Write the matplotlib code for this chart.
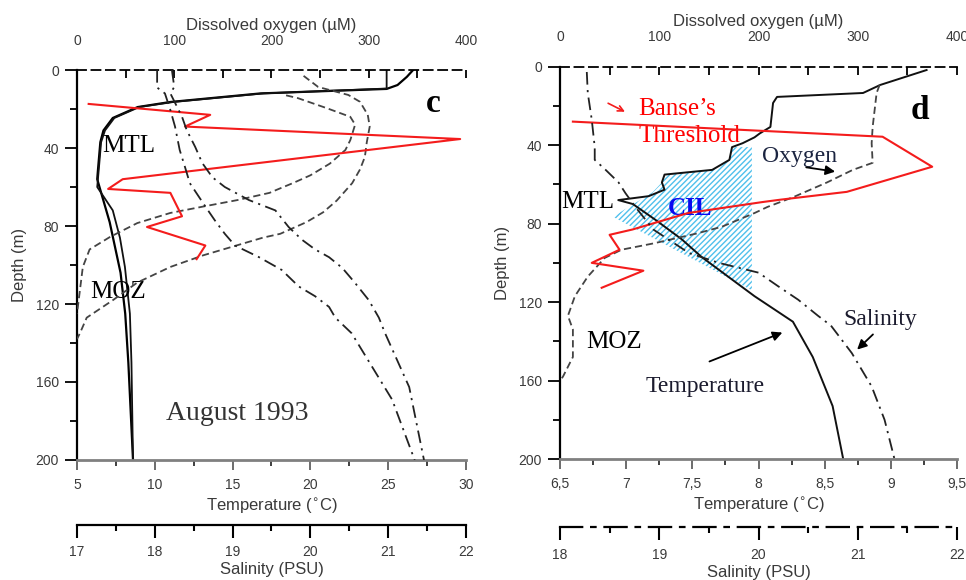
import matplotlib
matplotlib.use("Agg")
import matplotlib.pyplot as plt
from matplotlib.ticker import FixedLocator, FixedFormatter, MultipleLocator

# ---------------- data: panel c (August 1993) ----------------
c_temp1_depth = [0, 3.5, 7.7, 9.7, 12, 16.4, 19, 24.6, 31, 37, 51, 56, 67, 78, 91, 104, 125, 150, 175, 200]
c_temp1 = [26.6, 26.2, 25.6, 24.9, 16.8, 11.0, 8.9, 7.3, 6.7, 6.5, 6.35, 6.3, 6.7, 7.1, 7.45, 7.8, 8.1, 8.3, 8.45, 8.6]
c_temp2_depth = [0, 9.5, 12, 16.4, 19, 24.6, 31, 37, 51, 60, 72, 86, 101, 125, 150, 175, 200]
c_temp2 = [24.9, 24.9, 17.0, 11.2, 9.0, 7.4, 6.8, 6.55, 6.4, 6.3, 7.3, 7.76, 8.08, 8.4, 8.5, 8.55, 8.6]

c_oxyA_depth = [3, 8.7, 12.8, 16.3, 23, 29, 37, 44.6, 51, 58, 67, 73, 78, 84, 86, 95, 101, 109, 118, 127, 135, 138]
c_oxyA = [233, 248, 279, 291, 299, 301, 298, 296, 291, 283, 267, 253, 236, 209, 191, 130, 96, 62, 37, 10, 3, 0]
c_oxyB_depth = [13, 14.4, 19.6, 24, 28, 36, 41, 48, 54, 58, 61.5, 63, 66.7, 70, 73.3, 78.5, 85.6, 92, 101, 113, 125]
c_oxyB = [215, 227, 257, 281, 286, 281, 276, 260, 240, 222, 205, 198, 165, 130, 96, 62, 34, 13, 6, 3, 0]

c_red_depth = [17.4, 23, 29, 35.4, 56, 61, 63, 75, 80.5, 90, 97]
c_red_oxy = [12, 137, 111, 394, 47, 32, 96, 108, 72, 132, 123]

c_sal1_depth = [0, 9, 12, 20.5, 29, 41, 50, 58, 70, 77, 84, 90, 96, 102.5, 111, 116, 121.5, 127, 135, 169, 200]
c_sal1 = [18.03, 18.03, 18.13, 18.20, 18.26, 18.32, 18.39, 18.45, 18.65, 18.77, 18.90, 19.03, 19.34,
          19.63, 19.85, 20.06, 20.24, 20.32, 20.53, 21.05, 21.34]
c_sal2_depth = [0, 8.7, 12, 24, 30.8, 39.5, 47.7, 55, 60, 66.7, 72, 80.5, 87, 92, 96, 101.5, 109, 118, 127, 135, 162.6, 200]
c_sal2 = [18.22, 18.25, 18.20, 18.35, 18.41, 18.52, 18.61, 18.74, 18.90, 19.21, 19.55, 19.72, 19.89,
          20.06, 20.24, 20.41, 20.57, 20.75, 20.88, 20.96, 21.27, 21.46]

# ---------------- data: panel d ----------------
d_temp_depth = [1.7, 9.3, 13.4, 15.4, 18.5, 30.7, 34, 36, 39, 41, 47.5, 52.6, 55, 59, 62.7, 66, 68, 70,
                78, 88, 97, 107, 117, 130, 148, 173, 200]
d_temp = [9.27, 8.92, 8.79, 8.14, 8.11, 8.09, 8.01, 7.97, 7.88, 7.80, 7.78, 7.65, 7.29, 7.27, 7.29, 7.17,
          6.94, 7.05, 7.22, 7.42, 7.57, 7.77, 7.97, 8.26, 8.41, 8.56, 8.64]

d_oxy_depth = [9.3, 13.4, 30.7, 39, 49, 52.6, 59, 66.5, 71.5, 74.6, 81.6, 85, 90, 93.3, 97.5, 107, 117,
               127, 134, 148, 158, 160]
d_oxy = [322, 319, 315, 314, 315, 295, 269, 235, 209, 196, 163, 138, 95, 62, 45, 28, 15, 8, 13, 13, 3, 0]

d_sal_depth = [2.7, 13.4, 27, 41, 47.5, 52.6, 59, 64.5, 71.5, 83, 95, 100, 105, 112, 118.8, 127, 132,
               146, 163, 180, 200]
d_sal = [18.27, 18.28, 18.32, 18.35, 18.35, 18.46, 18.59, 18.66, 18.76, 18.94, 19.3, 19.6, 20.0, 20.2,
         20.4, 20.6, 20.73, 20.94, 21.14, 21.27, 21.37]

d_red_depth = [28, 35.7, 51, 63.8, 67.8, 69, 74.6, 83, 85.7, 93.3, 100, 104, 112.7]
d_red_oxy = [13, 325, 375, 289, 222, 204, 129, 73, 50, 60, 32, 84, 42]

cil_temp = [7.95, 7.80, 7.78, 7.65, 7.29, 7.27, 7.20, 6.90, 7.95]
cil_depth = [41, 41, 47.5, 52.6, 55, 59, 64, 76.5, 114]

# ---------------- ticks ----------------
depth_ticks = [0, 40, 80, 120, 160, 200]
oxy_ticks = [0, 100, 200, 300, 400]
c_temp_ticks = [5, 10, 15, 20, 25, 30]
c_temp_labels = ["5", "10", "15", "20", "25", "30"]
c_sal_ticks = [17, 18, 19, 20, 21, 22]
c_sal_labels = ["17", "18", "19", "20", "21", "22"]
d_temp_ticks = [6.5, 7, 7.5, 8, 8.5, 9, 9.5]
d_temp_labels = ["6,5", "7", "7,5", "8", "8,5", "9", "9,5"]
d_sal_ticks = [18, 19, 20, 21, 22]
d_sal_labels = ["18", "19", "20", "21", "22"]

SANS = "Liberation Sans"
SERIF = "Liberation Serif"
TXT = "#3a3a3a"
RED = "#f41c1c"
plt.rcParams["font.family"] = SANS
plt.rcParams["hatch.linewidth"] = 1.0

fig = plt.figure(figsize=(9.66, 5.8), dpi=100)


def panel(rect, tlim, tticks, tlabels, tminor, slim, sticks, slabels, sminor, sal_out, sal_ls):
    ax = fig.add_axes(rect)
    axO = ax.twiny()
    axS = ax.twiny()
    ax.set_xlim(*tlim)
    ax.set_ylim(200, 0)
    axO.set_xlim(0, 400)
    axS.set_xlim(*slim)
    for a in (ax, axO, axS):
        for s in a.spines.values():
            s.set_visible(False)
    # depth axis
    ax.spines["left"].set_visible(True)
    ax.spines["left"].set_linewidth(1.6)
    ax.yaxis.set_major_locator(FixedLocator(depth_ticks))
    ax.yaxis.set_minor_locator(MultipleLocator(20))
    ax.tick_params(axis="y", which="major", direction="out", length=9, width=1.3, pad=4,
                   labelsize=10, labelcolor=TXT)
    ax.tick_params(axis="y", which="minor", direction="out", length=5, width=1.3)
    ax.set_ylabel("Depth (m)", fontsize=12, color=TXT, labelpad=6)
    # temperature axis
    ax.spines["bottom"].set_visible(True)
    ax.spines["bottom"].set_color("#808080")
    ax.spines["bottom"].set_linewidth(2.0)
    ax.xaxis.set_major_locator(FixedLocator(tticks))
    ax.xaxis.set_major_formatter(FixedFormatter(tlabels))
    ax.xaxis.set_minor_locator(MultipleLocator(tminor))
    ax.tick_params(axis="x", which="major", direction="out", length=7, width=1.3, pad=6,
                   labelsize=10, labelcolor=TXT, color="#606060")
    ax.tick_params(axis="x", which="minor", direction="out", length=4, width=1.3, color="#303030")
    ax.set_xlabel("Temperature ($^{\\circ}$C)", fontsize=12, color=TXT, labelpad=3)
    # oxygen axis (top, dashed)
    axO.spines["top"].set_visible(True)
    axO.spines["top"].set_linestyle((0, (5, 3)))
    axO.spines["top"].set_linewidth(1.3)
    axO.xaxis.set_major_locator(FixedLocator(oxy_ticks))
    axO.xaxis.set_minor_locator(MultipleLocator(50))
    axO.tick_params(axis="x", which="both", direction="in", length=6, width=1.3, pad=16,
                    labelsize=10, labelcolor=TXT)
    axO.set_xlabel("Dissolved oxygen (\u00b5M)", fontsize=12, color=TXT, labelpad=3)
    # salinity axis (lower, separate)
    axS.xaxis.set_ticks_position("bottom")
    axS.xaxis.set_label_position("bottom")
    axS.spines["bottom"].set_visible(True)
    axS.spines["bottom"].set_position(("outward", sal_out))
    axS.spines["bottom"].set_linewidth(1.6)
    axS.spines["bottom"].set_linestyle(sal_ls)
    axS.xaxis.set_major_locator(FixedLocator(sticks))
    axS.xaxis.set_major_formatter(FixedFormatter(slabels))
    axS.xaxis.set_minor_locator(MultipleLocator(sminor))
    axS.tick_params(axis="x", which="major", direction="out", length=9, width=1.5, pad=6,
                    labelsize=10, labelcolor=TXT)
    axS.tick_params(axis="x", which="minor", direction="out", length=4, width=1.5)
    axS.set_xlabel("Salinity (PSU)", fontsize=12, color=TXT, labelpad=2)
    return ax, axO, axS


DASH = (0, (4, 2.2))
DASHDOT = (0, (7, 3, 1.2, 3))

# ---------------- panel c ----------------
ax, axO, axS = panel([0.0797, 0.2069, 0.4027, 0.6724], (5, 30), c_temp_ticks, c_temp_labels, 2.5,
                     (17, 22), c_sal_ticks, c_sal_labels, 0.5, 46.5, "-")
axS.plot(c_sal1, c_sal1_depth, color="#222222", lw=1.3, ls=DASHDOT)
axS.plot(c_sal2, c_sal2_depth, color="#222222", lw=1.3, ls=DASHDOT)
axO.plot(c_oxyA, c_oxyA_depth, color="#444444", lw=1.3, ls=DASH)
axO.plot(c_oxyB, c_oxyB_depth, color="#444444", lw=1.3, ls=DASH)
ax.plot(c_temp1, c_temp1_depth, color="black", lw=1.6)
ax.plot(c_temp2, c_temp2_depth, color="#111111", lw=1.3)
axO.plot(c_red_oxy, c_red_depth, color=RED, lw=1.5)

ax.text(27.9, 17, "c", fontsize=24, fontweight="bold", family=SERIF, ha="center", va="center")
ax.text(8.34, 39, "MTL", fontsize=18, family=SERIF, ha="center", va="center")
ax.text(7.63, 113.8, "MOZ", fontsize=18, family=SERIF, ha="center", va="center")
ax.text(15.28, 176.4, "August 1993", fontsize=20, family=SERIF, ha="center", va="center", color="#333333")

# ---------------- panel d ----------------
bx, bxO, bxS = panel([0.5797, 0.2086, 0.411, 0.6764], (6.5, 9.5), d_temp_ticks, d_temp_labels, 0.25,
                     (18, 22), d_sal_ticks, d_sal_labels, 0.5, 49, (0, (10, 4, 2, 4)))
bx.fill(cil_temp, cil_depth, facecolor="none", edgecolor="#4fc0ec", hatch="//////", lw=0)
bxS.plot(d_sal, d_sal_depth, color="#222222", lw=1.3, ls=DASHDOT)
bxO.plot(d_oxy, d_oxy_depth, color="#444444", lw=1.3, ls=DASH)
bx.plot(d_temp, d_temp_depth, color="#111111", lw=1.4)
bxO.plot(d_red_oxy, d_red_depth, color=RED, lw=1.5)

bx.text(9.22, 22.5, "d", fontsize=24, fontweight="bold", family=SERIF, ha="center", va="center")
bx.text(7.09, 21.5, "Banse\u2019s", fontsize=18, family=SERIF, ha="left", va="center", color="red")
bx.text(7.09, 35.3, "Threshold", fontsize=18, family=SERIF, ha="left", va="center", color="red")
bxO.annotate("", xy=(68, 23.6), xytext=(46, 18.0),
             arrowprops=dict(arrowstyle="->", color=RED, lw=1.2))
bx.text(8.03, 46, "Oxygen", fontsize=17, family=SERIF, ha="left", va="center", color="#1b2440")
bx.annotate("", xy=(8.6, 53.7), xytext=(8.34, 51.1),
            arrowprops=dict(arrowstyle="-|>", color="black", lw=1.3, mutation_scale=14))
bx.text(6.71, 68.9, "MTL", fontsize=18, family=SERIF, ha="center", va="center", clip_on=False)
bx.text(7.48, 72.4, "CIL", fontsize=18, fontweight="bold", family=SERIF, ha="center", va="center",
        color="#0a0af0")
bx.text(6.91, 140.6, "MOZ", fontsize=18, family=SERIF, ha="center", va="center")
bx.text(7.6, 163, "Temperature", fontsize=17, family=SERIF, ha="center", va="center", color="#1b1b2e")
bx.annotate("", xy=(8.2, 135), xytext=(7.61, 150.8),
            arrowprops=dict(arrowstyle="-|>", color="black", lw=1.3, mutation_scale=14))
bx.text(8.92, 128.9, "Salinity", fontsize=17, family=SERIF, ha="center", va="center", color="#1b1b2e")
bx.annotate("", xy=(8.73, 145.2), xytext=(8.88, 135.5),
            arrowprops=dict(arrowstyle="-|>", color="black", lw=1.3, mutation_scale=14))

fig.savefig("out.png", dpi=100)
